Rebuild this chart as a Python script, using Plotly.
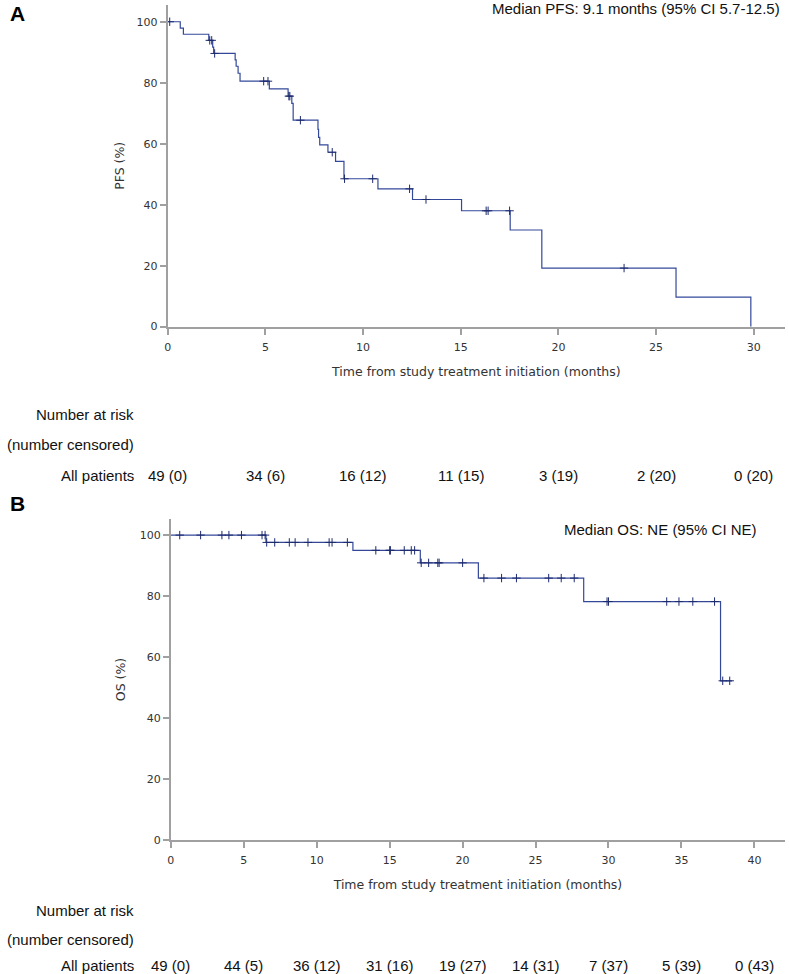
import plotly.graph_objects as go

# ---------------- Data ----------------
# Panel A: PFS Kaplan-Meier step curve
pfs_time = [0, 0.64, 0.8, 2.1, 2.3, 2.35, 3.45, 3.5, 3.6, 3.7, 5.2, 6.16, 6.35, 6.42,
            7.69, 7.72, 7.78, 8.2, 8.59, 9.02, 10.76, 12.53, 15.04, 17.53, 19.15, 26.02, 29.85]
pfs_surv = [100, 97.9, 95.9, 93.9, 91.7, 89.6, 87.5, 85.4, 83.1, 80.5, 78.0, 75.6, 73.2, 67.7,
            64.7, 62.1, 59.6, 57.2, 54.2, 48.5, 45.2, 41.7, 38.0, 31.7, 19.2, 9.7, 0]
pfs_cens_time = [0.1, 2.15, 2.25, 2.4, 4.91, 5.13, 6.2, 6.25, 6.79, 8.42, 9.05, 10.49,
                 12.38, 13.22, 16.3, 16.4, 17.5, 23.36]
pfs_cens_surv = [100, 93.9, 93.9, 89.6, 80.5, 80.5, 75.6, 75.6, 67.7, 57.2, 48.5, 48.5,
                 45.2, 41.7, 38.0, 38.0, 38.0, 19.2]
pfs_risk_time = [0, 5, 10, 15, 20, 25, 30]
pfs_risk_label = ["49 (0)", "34 (6)", "16 (12)", "11 (15)", "3 (19)", "2 (20)", "0 (20)"]

# Panel B: OS Kaplan-Meier step curve
os_time = [0, 6.52, 12.48, 17.1, 21.08, 28.3, 37.68, 38.47]
os_surv = [100, 97.6, 95.0, 90.9, 85.9, 78.2, 52.2, 52.2]
os_cens_time = [0.61, 2.04, 3.5, 3.98, 4.84, 6.25, 6.46,
                6.57, 7.12, 8.12, 8.52, 9.4, 10.85, 11.05, 12.1,
                14.05, 15.0, 15.05, 16.0, 16.48, 16.71,
                17.16, 17.67, 18.3, 18.39, 20.0,
                21.46, 22.67, 23.69, 25.9, 26.76, 27.65,
                29.9, 30.0, 33.99, 34.83, 35.78, 37.27,
                37.83, 38.31]
os_cens_surv = [100, 100, 100, 100, 100, 100, 100,
                97.6, 97.6, 97.6, 97.6, 97.6, 97.6, 97.6, 97.6,
                95.0, 95.0, 95.0, 95.0, 95.0, 95.0,
                90.9, 90.9, 90.9, 90.9, 90.9,
                85.9, 85.9, 85.9, 85.9, 85.9, 85.9,
                78.2, 78.2, 78.2, 78.2, 78.2, 78.2,
                52.2, 52.2]
os_risk_time = [0, 5, 10, 15, 20, 25, 30, 35, 40]
os_risk_label = ["49 (0)", "44 (5)", "36 (12)", "31 (16)", "19 (27)", "14 (31)", "7 (37)", "5 (39)", "0 (43)"]

y_ticks = [0, 20, 40, 60, 80, 100]

# ---------------- Styling ----------------
W, H = 789, 974
LINE = "#34489a"
MARK = "#1d2b6e"
AXIS = "#a0a0a0"
TICKFONT = dict(family="DejaVu Sans", size=11, color="#333333")
TITLEFONT = dict(family="DejaVu Sans", size=12.5, color="#333333")
TXTFONT = dict(family="Liberation Sans, Arial", size=15, color="#111111")


def py(p):
    """pixel row -> paper y"""
    return 1 - p / H


fig = go.Figure()

fig.add_trace(go.Scatter(x=pfs_time, y=pfs_surv, mode="lines", line=dict(color=LINE, width=1.2, shape="hv"),
                         xaxis="x", yaxis="y", showlegend=False, hoverinfo="skip"))
fig.add_trace(go.Scatter(x=pfs_cens_time, y=pfs_cens_surv, mode="markers",
                         marker=dict(symbol="cross-thin", size=6, line=dict(color=MARK, width=1)),
                         xaxis="x", yaxis="y", showlegend=False))
fig.add_trace(go.Scatter(x=os_time, y=os_surv, mode="lines", line=dict(color=LINE, width=1.2, shape="hv"),
                         xaxis="x2", yaxis="y2", showlegend=False, hoverinfo="skip"))
fig.add_trace(go.Scatter(x=os_cens_time, y=os_cens_surv, mode="markers",
                         marker=dict(symbol="cross-thin", size=6, line=dict(color=MARK, width=1)),
                         xaxis="x2", yaxis="y2", showlegend=False))

axis_common = dict(showline=True, linecolor=AXIS, linewidth=2, showgrid=False, zeroline=False,
                   ticks="outside", ticklen=6, tickcolor=AXIS, tickwidth=1.5,
                   tickfont=TICKFONT, fixedrange=True)

fig.update_layout(
    width=W, height=H, margin=dict(l=0, r=0, t=0, b=0),
    paper_bgcolor="white", plot_bgcolor="white",
    xaxis=dict(domain=[164.6 / W, 785 / W], range=[0, 31.6], tickvals=pfs_risk_time,
               anchor="y", ticklabelstandoff=3,
               title=dict(text="Time from study treatment initiation (months)",
                          font=TITLEFONT, standoff=14), **axis_common),
    yaxis=dict(domain=[py(329), py(5)], range=[0, 105.5], tickvals=y_ticks, anchor="x",
               title=dict(text="PFS (%)", font=TITLEFONT, standoff=9), **axis_common),
    xaxis2=dict(domain=[167.7 / W, 785 / W], range=[0, 42.1], tickvals=os_risk_time,
                anchor="y2", ticklabelstandoff=3,
                title=dict(text="Time from study treatment initiation (months)",
                           font=TITLEFONT, standoff=14), **axis_common),
    yaxis2=dict(domain=[py(846), py(522.7)], range=[0, 105.3], tickvals=y_ticks, anchor="x2",
                title=dict(text="OS (%)", font=TITLEFONT, standoff=11), **axis_common),
)

ann = []
# Panel letters
ann.append(dict(text="<b>A</b>", x=4 / W, y=py(14), xref="paper", yref="paper", xanchor="left",
                yanchor="middle", showarrow=False, font=dict(family="Liberation Sans, Arial", size=21, color="black")))
ann.append(dict(text="<b>B</b>", x=4 / W, y=py(507), xref="paper", yref="paper", xanchor="left",
                yanchor="middle", showarrow=False, font=dict(family="Liberation Sans, Arial", size=21, color="black")))
# Medians
ann.append(dict(text="Median PFS: 9.1 months (95% CI 5.7-12.5)", x=782 / W, y=py(9), xref="paper", yref="paper",
                xanchor="right", yanchor="middle", showarrow=False, font=TXTFONT))
ann.append(dict(text="Median OS: NE (95% CI NE)", x=759 / W, y=py(533), xref="paper", yref="paper",
                xanchor="right", yanchor="middle", showarrow=False, font=TXTFONT))

# Risk tables
for rows in ((418, 448, 479), (917, 946, 972)):
    for txt, r in zip(["Number at risk", "(number censored)", "All patients"], rows):
        ann.append(dict(text=txt, x=133 / W, y=py(r), xref="paper", yref="paper", xanchor="right",
                        yanchor="middle", showarrow=False, font=TXTFONT))
for t, lab in zip(pfs_risk_time, pfs_risk_label):
    ann.append(dict(text=lab, x=t, y=py(479), xref="x", yref="paper", xanchor="center",
                    yanchor="middle", showarrow=False, font=TXTFONT))
for t, lab in zip(os_risk_time, os_risk_label):
    ann.append(dict(text=lab, x=t, y=py(972), xref="x2", yref="paper", xanchor="center",
                    yanchor="middle", showarrow=False, font=TXTFONT))

fig.update_layout(annotations=ann)
fig.write_html(
    "out.html",
    config={"displayModeBar": False},
    post_script="document.documentElement.style.margin='0';document.body.style.margin='0';"
                "document.body.style.overflow='hidden';document.documentElement.style.overflow='hidden';",
)
